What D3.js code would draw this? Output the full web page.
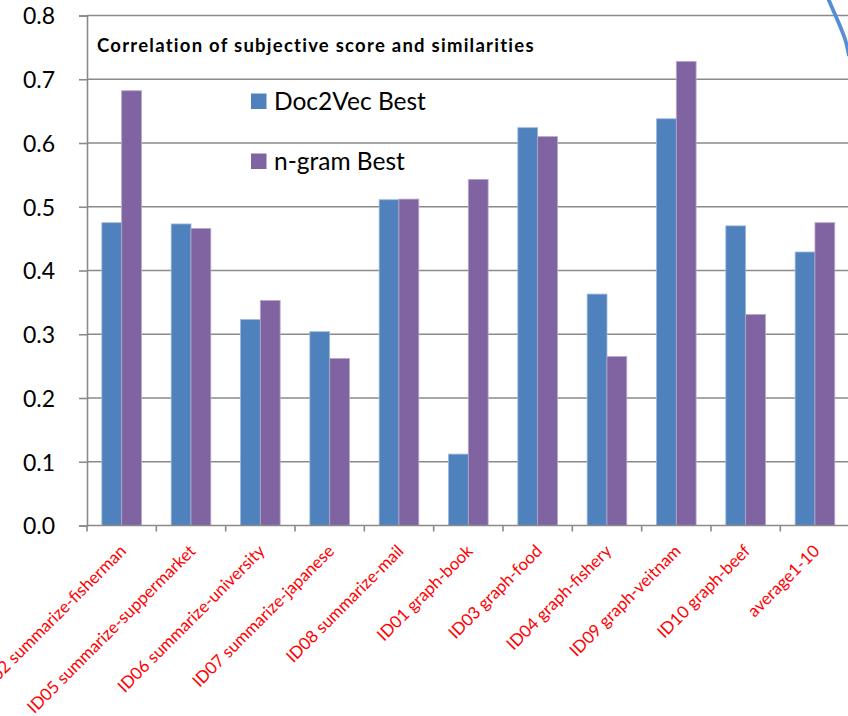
<!DOCTYPE html>
<html>
<head>
<meta charset="utf-8">
<script src="https://cdn.jsdelivr.net/npm/d3@7"></script>
<style>
  html, body { margin: 0; padding: 0; background: #fff; overflow: hidden; }
  svg { display: block; }
</style>
</head>
<body>
<svg id="chart" width="848" height="716"></svg>
<script>
// Correlation between subjective scores and similarity measures, per task
const categories = [
  "ID02 summarize-fisherman",
  "ID05 summarize-suppermarket",
  "ID06 summarize-university",
  "ID07 summarize-japanese",
  "ID08 summarize-mail",
  "ID01 graph-book",
  "ID03 graph-food",
  "ID04 graph-fishery",
  "ID09 graph-veitnam",
  "ID10 graph-beef",
  "average1-10"
];
const seriesNames = ["Doc2Vec Best", "n-gram Best"];
const doc2vecBest = [0.475, 0.473, 0.323, 0.304, 0.511, 0.112, 0.624, 0.363, 0.638, 0.470, 0.429];
const ngramBest   = [0.682, 0.466, 0.353, 0.262, 0.512, 0.543, 0.610, 0.265, 0.728, 0.331, 0.475];
const yTicks = [0, 0.1, 0.2, 0.3, 0.4, 0.5, 0.6, 0.7, 0.8];
const titleText = "Correlation of subjective score and similarities";

const colors = { "Doc2Vec Best": "#4f81bd", "n-gram Best": "#8064a2" };
const edges  = { "Doc2Vec Best": "#9db7da", "n-gram Best": "#b8a7cc" };

const svg = d3.select("#chart");
const font = "Lato, 'Open Sans', sans-serif";

// plot area runs past the right edge of the page
const plotLeft = 87, plotTop = 15.5, plotBottom = 525.5, step = 69.33;
const x = d3.scaleBand().domain(categories).range([plotLeft, plotLeft + step * categories.length]).padding(0);
const xi = d3.scaleBand().domain(seriesNames).range([0, x.bandwidth()]).paddingInner(0).paddingOuter(0.75);
const y = d3.scaleLinear().domain([0, 0.8]).range([plotBottom, plotTop]);

svg.append("rect").attr("width", 848).attr("height", 716).attr("fill", "#fff");

// horizontal gridlines
svg.append("g")
  .selectAll("line")
  .data(yTicks.filter(d => d > 0))
  .join("line")
  .attr("x1", plotLeft).attr("x2", 860)
  .attr("y1", d => y(d)).attr("y2", d => y(d))
  .attr("stroke", "#8a8a8a").attr("stroke-width", 1.6);

// bars
const rows = categories.map((c, i) => ({ c, vals: [
  { s: seriesNames[0], v: doc2vecBest[i] },
  { s: seriesNames[1], v: ngramBest[i] }
]}));

svg.append("g")
  .selectAll("g")
  .data(rows)
  .join("g")
  .attr("transform", d => `translate(${x(d.c)},0)`)
  .selectAll("rect")
  .data(d => d.vals)
  .join("rect")
  .attr("x", d => xi(d.s))
  .attr("width", xi.bandwidth())
  .attr("y", d => y(d.v))
  .attr("height", d => y(0) - y(d.v))
  .attr("fill", d => colors[d.s])
  .attr("stroke", d => edges[d.s])
  .attr("stroke-width", 0.8);

// y axis
const yAxis = d3.axisLeft(y).tickValues(yTicks).tickFormat(d3.format(".1f")).tickSize(8).tickPadding(24);
const gy = svg.append("g").attr("transform", `translate(${plotLeft},0)`).call(yAxis);
gy.select(".domain").attr("stroke", "#8a8a8a").attr("stroke-width", 1.6);
gy.selectAll(".tick line").attr("stroke", "#8a8a8a").attr("stroke-width", 1.6);
gy.selectAll(".tick text")
  .attr("font-family", font).attr("font-size", 23).attr("fill", "#000")
  .attr("dy", "0.36em");

// x axis with ticks at category boundaries
const gx = svg.append("g").attr("transform", `translate(0,${plotBottom})`);
gx.append("line").attr("x1", plotLeft).attr("x2", 860).attr("stroke", "#8a8a8a").attr("stroke-width", 1.6);
gx.selectAll("line.tk")
  .data(categories)
  .join("line").attr("class", "tk")
  .attr("x1", d => x(d)).attr("x2", d => x(d))
  .attr("y1", 0).attr("y2", 6)
  .attr("stroke", "#8a8a8a").attr("stroke-width", 1.6);

// rotated category labels
svg.append("g")
  .selectAll("text")
  .data(categories)
  .join("text")
  .attr("transform", d => `translate(${x(d) + x.bandwidth() / 2 - 3},${plotBottom + 18}) rotate(-45)`)
  .attr("text-anchor", "end")
  .attr("dy", "0.72em")
  .attr("font-family", font).attr("font-size", 16.9)
  .attr("fill", "#ff0000")
  .text(d => d);

// title
svg.append("text")
  .attr("x", 97).attr("y", 52)
  .attr("font-family", font).attr("font-size", 18.5).attr("font-weight", "bold")
  .attr("letter-spacing", 1.25)
  .attr("fill", "#000")
  .text(titleText);

// legend
const legend = svg.append("g").selectAll("g")
  .data(seriesNames)
  .join("g")
  .attr("transform", (d, i) => `translate(251,${109.5 + i * 60})`);
legend.append("rect")
  .attr("x", 0).attr("y", -16).attr("width", 15.5).attr("height", 15.5)
  .attr("fill", d => colors[d]);
legend.append("text")
  .attr("x", 23).attr("y", 0)
  .attr("font-family", font).attr("font-size", 24.5).attr("fill", "#000")
  .text(d => d);

// blue highlight outline reaching in from the top-right corner
svg.append("path")
  .attr("d", d3.line().curve(d3.curveNatural)([[827, -4], [837, 19], [845, 39], [849, 56]]))
  .attr("fill", "none").attr("stroke", "#558ed5").attr("stroke-width", 3.8);
</script>
</body>
</html>
